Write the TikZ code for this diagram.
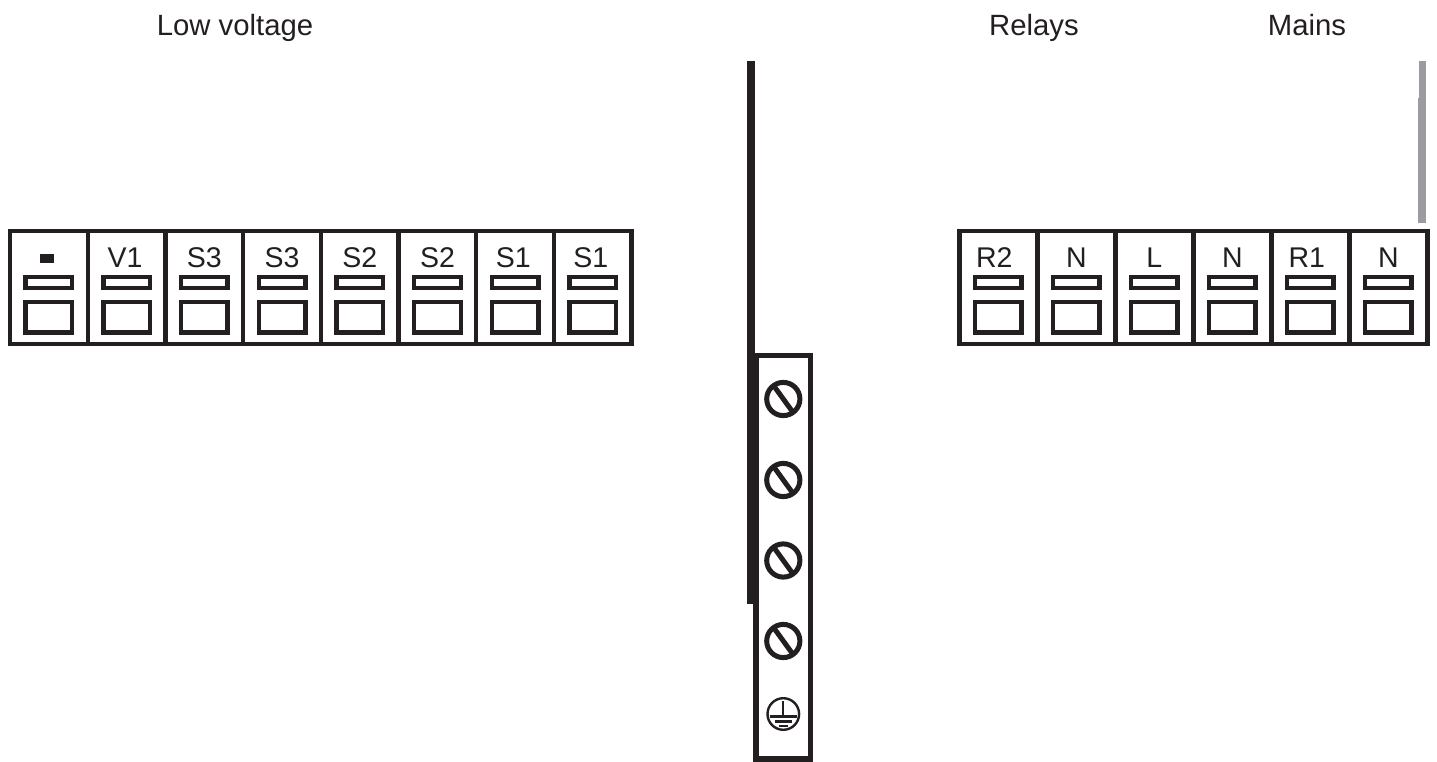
\documentclass[tikz,border=0pt]{standalone}
\usepackage{fontspec}
\setmainfont{Liberation Sans}
\definecolor{ink}{HTML}{231F20}
\definecolor{greybar}{HTML}{9B9C9F}
\tikzset{
  x=1pt,y=-1pt,
  outerbox/.style={draw=ink,line width=4.4pt,line join=miter},
  slotbox/.style={draw=ink,line width=4.4pt},
  head/.style={font=\fontsize{29.3}{29.3}\selectfont,text=ink,anchor=base,inner sep=0pt},
  celltext/.style={font=\fontsize{28.5}{28.5}\selectfont,text=ink,anchor=base,inner sep=0pt},
  screw/.style={draw=ink,line width=5pt},
}
\newcommand{\termcell}[4][39]{% label offset, left x, width, label
  \draw[outerbox] (#2,231) rectangle ++(#3,113);
  \draw[slotbox] (#2+15.6,277) rectangle ++(46.6,11);
  \draw[slotbox] (#2+15.6,302) rectangle ++(46.6,30.5);
  \node[celltext] (cell#4) at (#2+#1,267.5) {#4};
}
\newcommand{\screwmark}[2]{% name, y
  \coordinate (#1) at (783.3,#2);
  \draw[screw] (#1) circle (16.6);
  \draw[screw] (772.8,#2-14.5) -- (793.8,#2+14.5);
}
\begin{document}
\begin{tikzpicture}
\useasboundingbox (0,0) rectangle (1437,762);
\fill[white] (0,0) rectangle (1437,762);
\node[head] (lv) at (235,35.5) {Low voltage};
\node[head] (rel) at (1034,35.5) {Relays};
\node[head] (mains) at (1307,35.5) {Mains};
% vertical bars
\fill[ink] (747.3,61) rectangle (755,603.5);
\fill[greybar] (1419,61) rectangle (1426,223);
\fill[greybar] (1418,98) rectangle (1420,223);
% left terminal block
\termcell{10}{77.7}{}
\fill[ink] (40,254) rectangle (53.5,263);
\termcell[37.3]{87.7}{77.7}{V1}
\termcell{165.4}{77.7}{S3}
\termcell{243.1}{77.7}{S3}
\termcell{320.8}{77.7}{S2}
\termcell{398.5}{77.7}{S2}
\termcell[37]{476.2}{77.7}{S1}
\termcell[37]{553.9}{77.7}{S1}
% right terminal block
\termcell[35]{959.3}{78}{R2}
\termcell{1037.3}{78}{N}
\termcell{1115.3}{78}{L}
\termcell{1193.3}{78}{N}
\termcell[35.5]{1271.3}{78}{R1}
\termcell{1349.3}{78}{N}
% earth strip
\draw[draw=ink,line width=5.2pt] (756,355.5) rectangle (810.8,759);
\screwmark{s1}{399}
\screwmark{s2}{480}
\screwmark{s3}{560.5}
\screwmark{s4}{641}
% earth symbol
\coordinate (gnd) at (783.3,714);
\draw[draw=ink,line width=2.4pt] (gnd) circle (15.8);
\draw[draw=ink,line width=1.9pt] (783.3,701) -- (783.3,716.5);
\draw[draw=ink,line width=2.2pt] (769.5,716.5) -- (797,716.5);
\draw[draw=ink,line width=2.2pt] (774.5,721.5) -- (792,721.5);
\draw[draw=ink,line width=2.2pt] (779,726) -- (787.5,726);
\end{tikzpicture}
\end{document}
